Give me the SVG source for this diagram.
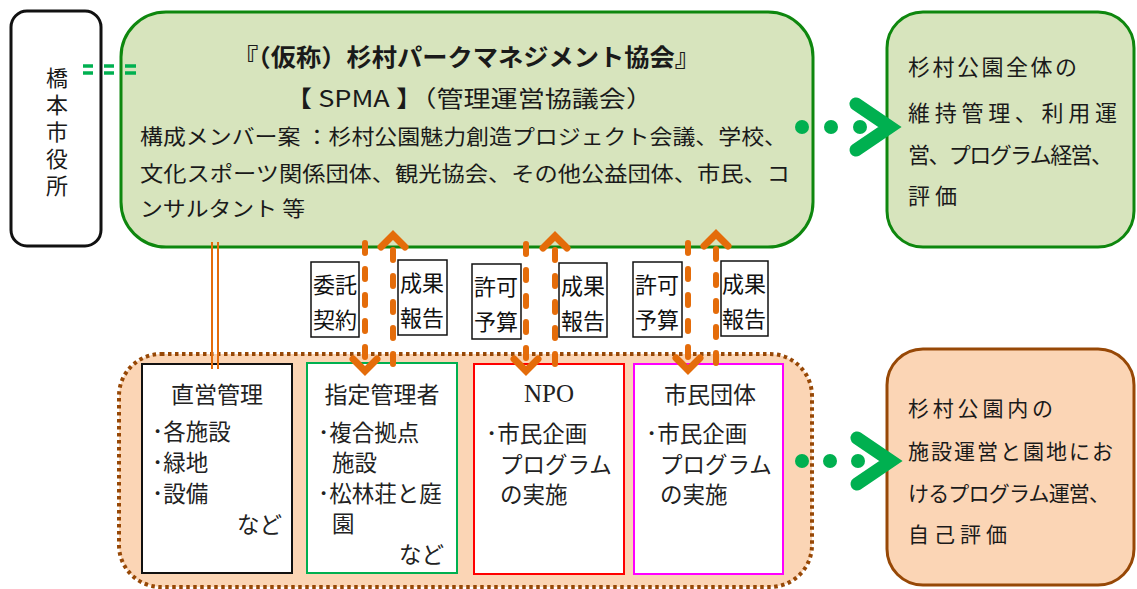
<svg xmlns="http://www.w3.org/2000/svg" width="1137" height="589" viewBox="0 0 1137 589">
<style>
.t{font-family:"Noto Sans CJK JP","Noto Sans",sans-serif;fill:#1a1a1a;dominant-baseline:central}
.lab{font-family:"Noto Sans CJK JP",sans-serif;fill:#111;font-size:22px;text-anchor:middle;dominant-baseline:central}
.in{font-family:"Noto Sans CJK JP",sans-serif;fill:#222;font-size:22.5px;dominant-baseline:central}
.hd{font-size:23px}
.lbox{fill:#fff;stroke:#111;stroke-width:1.5}
.dash{fill:none;stroke:#e46c0a;stroke-width:6;stroke-dasharray:10 16;stroke-linecap:round}
.head{fill:none;stroke:#e46c0a;stroke-width:7;stroke-linejoin:miter;stroke-linecap:round}
.gdot{fill:#00b050}
.chev{fill:none;stroke:#00b050;stroke-width:13;stroke-linecap:round;stroke-linejoin:miter}
</style>

<g id="city-office">
<rect x="11" y="11" width="90" height="235" rx="16" fill="#fff" stroke="#111" stroke-width="3"/>
<text font-family="Noto Sans CJK JP, sans-serif" font-size="22" fill="#1a1a1a" writing-mode="vertical-rl" letter-spacing="5" x="57" y="67">橋本市役所</text>
</g>

<g id="spma">
<rect x="121" y="12" width="692" height="235" rx="45" fill="#d7e4bd" stroke="#0e870e" stroke-width="3"/>
<text class="t" font-size="24" font-weight="bold" x="233" y="55" textLength="467" lengthAdjust="spacingAndGlyphs">『（仮称）杉村パークマネジメント協会』</text>
<text class="t" font-size="23" x="285" y="97" textLength="368" lengthAdjust="spacingAndGlyphs">【 SPMA 】（管理運営協議会）</text>
<text class="t" font-size="21" x="140" y="135" textLength="647" lengthAdjust="spacingAndGlyphs">構成メンバー案 ：杉村公園魅力創造プロジェクト会議、学校、</text>
<text class="t" font-size="21" x="140" y="172" textLength="650" lengthAdjust="spacingAndGlyphs">文化スポーツ関係団体、観光協会、その他公益団体、市民、コ</text>
<text class="t" font-size="21" x="140" y="207" textLength="165" lengthAdjust="spacingAndGlyphs">ンサルタント 等</text>
</g>

<g id="outcome-top">
<rect x="887" y="12" width="247" height="235" rx="36" fill="#d7e4bd" stroke="#0e870e" stroke-width="3"/>
<text class="t" font-size="22" x="908" y="65" textLength="169">杉村公園全体の</text>
<text class="t" font-size="22" x="908" y="111" textLength="209">維持管理、利用運</text>
<text class="t" font-size="22" x="908" y="153" textLength="205">営、プログラム経営、</text>
<text class="t" font-size="22" x="908" y="194" textLength="49">評価</text>
</g>

<g id="operators-group">
<rect x="119" y="354" width="693" height="233" rx="42" fill="#fbd5b5" stroke="#974806" stroke-width="4" stroke-dasharray="3.5 3.5"/>
</g>

<g id="direct">
<rect x="142" y="364" width="150" height="209" fill="#fff" stroke="#111" stroke-width="2"/>
<text class="in hd" x="217" y="393" text-anchor="middle">直営管理</text>
<text class="in"><tspan x="152" y="430">･各施設</tspan><tspan x="152" y="461">･緑地</tspan><tspan x="152" y="492">･設備</tspan><tspan x="282" y="523" text-anchor="end">など</tspan></text>
</g>

<g id="designated">
<rect x="307" y="363" width="150" height="210" fill="#fff" stroke="#00b050" stroke-width="2"/>
<text class="in hd" x="382" y="393" text-anchor="middle">指定管理者</text>
<text class="in"><tspan x="318" y="431">･複合拠点</tspan><tspan x="332" y="461">施設</tspan><tspan x="318" y="492">･松林荘と庭</tspan><tspan x="332" y="522">園</tspan><tspan x="444" y="553" text-anchor="end">など</tspan></text>
</g>

<g id="npo">
<rect x="474" y="364" width="150" height="210" fill="#fff" stroke="#ff0000" stroke-width="2"/>
<text x="549" y="393" text-anchor="middle" dominant-baseline="central" font-family="Liberation Serif, serif" font-size="25" fill="#222">NPO</text>
<text class="in"><tspan x="486" y="432">･市民企画</tspan><tspan x="500" y="463">プログラム</tspan><tspan x="500" y="493">の実施</tspan></text>
</g>

<g id="citizen-groups">
<rect x="634" y="364" width="149" height="210" fill="#fff" stroke="#ff00ff" stroke-width="2"/>
<text class="in hd" x="710" y="393" text-anchor="middle">市民団体</text>
<text class="in"><tspan x="646" y="432">･市民企画</tspan><tspan x="660" y="463">プログラム</tspan><tspan x="660" y="493">の実施</tspan></text>
</g>

<g id="outcome-bottom">
<rect x="887" y="349" width="247" height="236" rx="36" fill="#fbd5b5" stroke="#974806" stroke-width="3"/>
<text class="t" font-size="21" x="908" y="407" textLength="145">杉村公園内の</text>
<text class="t" font-size="21" x="908" y="450" textLength="205">施設運営と園地にお</text>
<text class="t" font-size="21" x="908" y="492" textLength="202">けるプログラム運営、</text>
<text class="t" font-size="21" x="908" y="533" textLength="99">自己評価</text>
</g>

<g id="labels">
<rect class="lbox" x="311" y="262" width="48" height="75"/>
<text class="lab"><tspan x="335" y="283">委託</tspan><tspan x="335" y="318">契約</tspan></text>
<rect class="lbox" x="398" y="260" width="49" height="75"/>
<text class="lab"><tspan x="422" y="281">成果</tspan><tspan x="422" y="316">報告</tspan></text>
<rect class="lbox" x="472" y="264" width="49" height="75"/>
<text class="lab"><tspan x="496" y="285">許可</tspan><tspan x="496" y="320">予算</tspan></text>
<rect class="lbox" x="559" y="263" width="48" height="74"/>
<text class="lab"><tspan x="583" y="284">成果</tspan><tspan x="583" y="319">報告</tspan></text>
<rect class="lbox" x="633" y="262" width="49" height="75"/>
<text class="lab"><tspan x="657" y="283">許可</tspan><tspan x="657" y="318">予算</tspan></text>
<rect class="lbox" x="721" y="261" width="47" height="75"/>
<text class="lab"><tspan x="744" y="282">成果</tspan><tspan x="744" y="317">報告</tspan></text>
</g>

<g id="connectors">
<g stroke="#00b050" stroke-width="3.5">
<line x1="83" y1="66" x2="93" y2="66"/><line x1="83" y1="73" x2="93" y2="73"/>
<line x1="104" y1="66" x2="114" y2="66"/><line x1="104" y1="73" x2="114" y2="73"/>
<line x1="125" y1="66" x2="136" y2="66"/><line x1="125" y1="73" x2="136" y2="73"/>
</g>
<line x1="212" y1="242" x2="212" y2="369" stroke="#e46c0a" stroke-width="2"/>
<line x1="218" y1="242" x2="218" y2="369" stroke="#e46c0a" stroke-width="2"/>
<line class="dash" x1="365" y1="243" x2="365" y2="368"/>
<polyline class="head" points="353,359 365,371 377,359"/>
<line class="dash" x1="393" y1="364" x2="393" y2="240"/>
<polyline class="head" points="381,247 393,235 405,247"/>
<line class="dash" x1="526" y1="244" x2="526" y2="368"/>
<polyline class="head" points="514,359 526,371 538,359"/>
<line class="dash" x1="555" y1="364" x2="555" y2="240"/>
<polyline class="head" points="543,248 555,236 567,248"/>
<line class="dash" x1="688" y1="243" x2="688" y2="367"/>
<polyline class="head" points="676,358 688,370 700,358"/>
<line class="dash" x1="716" y1="363" x2="716" y2="240"/>
<polyline class="head" points="704,246 716,234 728,246"/>
<circle class="gdot" cx="802" cy="127" r="7"/>
<circle class="gdot" cx="831" cy="127" r="7"/>
<circle class="gdot" cx="860" cy="127" r="7"/>
<polyline class="chev" points="856,104 890,127 856,150"/>
<circle class="gdot" cx="802" cy="461" r="7"/>
<circle class="gdot" cx="830" cy="461" r="7"/>
<circle class="gdot" cx="858" cy="461" r="7"/>
<polyline class="chev" points="857,438 891,461 857,484"/>
</g>
</svg>
